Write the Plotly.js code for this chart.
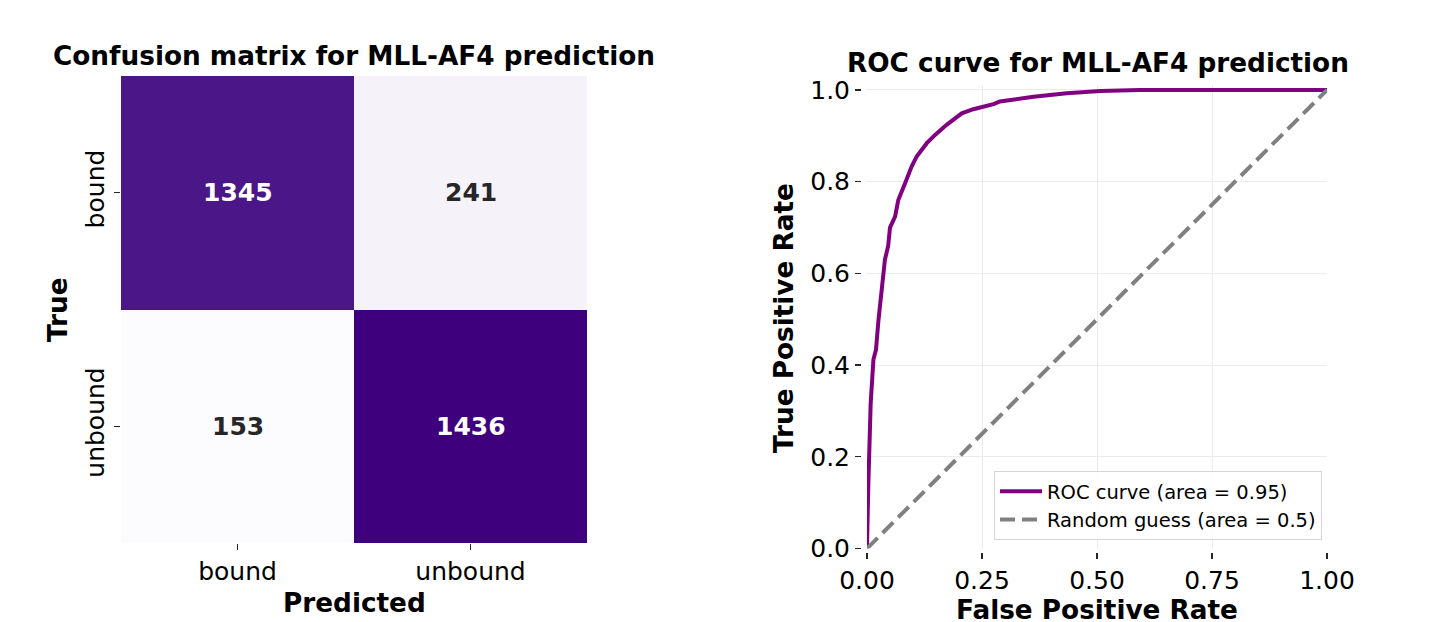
<!DOCTYPE html>
<html>
<head>
<meta charset="utf-8">
<script src="https://cdn.plot.ly/plotly-3.0.1.min.js"></script>
<style>
  html, body { margin: 0; padding: 0; background: #ffffff; }
  #chart { width: 1436px; height: 622px; }
</style>
</head>
<body>
<div id="chart"></div>
<script>
// ---------- data ----------
const cmCategories = ['bound', 'unbound'];
const cmValues = [
  [1345, 241],
  [153, 1436]
];

const rocFpr = [0.000, 0.000, 0.002, 0.003, 0.0065, 0.008, 0.014, 0.0196, 0.025, 0.032, 0.039, 0.046, 0.050, 0.061, 0.068, 0.083, 0.097, 0.108, 0.130, 0.148, 0.173, 0.206, 0.231, 0.275, 0.289, 0.362, 0.434, 0.507, 0.593, 0.700, 0.800, 0.900, 1.000];
const rocTpr = [0.000, 0.030, 0.100, 0.143, 0.245, 0.317, 0.412, 0.434, 0.499, 0.560, 0.630, 0.660, 0.700, 0.724, 0.760, 0.797, 0.833, 0.855, 0.884, 0.902, 0.924, 0.949, 0.958, 0.969, 0.975, 0.985, 0.993, 0.998, 1.000, 1.000, 1.000, 1.000, 1.000];

const chanceFpr = [0, 1];
const chanceTpr = [0, 1];

const rocLabel = 'ROC curve (area = 0.95)';
const chanceLabel = 'Random guess (area = 0.5)';

const rocXTicks = [0, 0.25, 0.5, 0.75, 1.0];
const rocYTicks = [0, 0.2, 0.4, 0.6, 0.8, 1.0];

// ---------- styling ----------
const FONT = 'DejaVu Sans, Verdana, sans-serif';
const purples = [
  [0.000, '#fcfbfd'], [0.125, '#efedf5'], [0.250, '#dadaeb'],
  [0.375, '#bcbddc'], [0.500, '#9e9ac8'], [0.625, '#807dba'],
  [0.750, '#6a51a3'], [0.875, '#54278f'], [1.000, '#3f007d']
];
const W = 1436, H = 622;
const px = v => v / W;
const py = v => 1 - v / H;

const flat = cmValues.flat();
const zmin = Math.min(...flat), zmax = Math.max(...flat);

const traces = [
  {
    type: 'heatmap',
    x: cmCategories, y: cmCategories, z: cmValues,
    colorscale: purples, zmin: zmin, zmax: zmax,
    showscale: false, hoverinfo: 'skip',
    xaxis: 'x', yaxis: 'y'
  },
  {
    type: 'scatter', mode: 'lines',
    x: rocFpr, y: rocTpr, name: rocLabel,
    line: { color: '#800080', width: 4 },
    cliponaxis: false,
    xaxis: 'x2', yaxis: 'y2'
  },
  {
    type: 'scatter', mode: 'lines',
    x: chanceFpr, y: chanceTpr, name: chanceLabel,
    line: { color: '#808080', width: 4, dash: '15px,7px' },
    cliponaxis: false,
    xaxis: 'x2', yaxis: 'y2'
  }
];

// annotations: cell values
const annotations = [];
const mid = (zmin + zmax) / 2;
cmValues.forEach((row, i) => {
  row.forEach((v, j) => {
    annotations.push({
      x: cmCategories[j], y: cmCategories[i], xref: 'x', yref: 'y',
      text: String(v), showarrow: false,
      font: { family: FONT, size: 25, color: v > mid ? '#ffffff' : '#262626', weight: 'bold' }
    });
  });
});

function label(text, x, y, angle) {
  return {
    text: text, xref: 'paper', yref: 'paper', x: px(x), y: py(y),
    xanchor: 'center', yanchor: 'middle', showarrow: false, textangle: angle || 0,
    borderpad: 0,
    font: { family: FONT, size: 26.3, color: '#000000', weight: 'bold' }
  };
}
annotations.push(label('Confusion matrix for MLL-AF4 prediction', 354, 56));
annotations.push(label('ROC curve for MLL-AF4 prediction', 1098, 63));
annotations.push(label('Predicted', 354, 603));
annotations.push(label('True', 58, 310, -90));
annotations.push(label('True Positive Rate', 784, 318, -90));
annotations.push(label('False Positive Rate', 1097, 610));

const tickFont = { family: FONT, size: 25, color: '#000000' };

const layout = {
  width: W, height: H,
  margin: { l: 0, r: 0, t: 0, b: 0 },
  paper_bgcolor: '#ffffff', plot_bgcolor: '#ffffff',
  showlegend: true,
  font: { family: FONT, color: '#000000' },
  xaxis: {
    domain: [px(121), px(587)], anchor: 'y',
    type: 'category', showgrid: false, zeroline: false, showline: false,
    ticks: 'outside', ticklen: 6, tickwidth: 1.2, tickcolor: '#262626',
    tickfont: tickFont, fixedrange: true
  },
  yaxis: {
    domain: [py(543), py(76)], anchor: 'x',
    type: 'category', autorange: 'reversed', showgrid: false, zeroline: false, showline: false,
    ticks: 'outside', ticklen: 6, tickwidth: 1.2, tickcolor: '#262626',
    tickfont: tickFont, tickangle: -90, fixedrange: true
  },
  xaxis2: {
    domain: [px(867), px(1327)], anchor: 'free', position: py(552),
    range: [0, 1], tickvals: rocXTicks, tickformat: '.2f',
    showgrid: true, gridcolor: '#ebebeb', gridwidth: 1,
    zeroline: false, showline: false,
    ticks: 'outside', ticklen: 6, tickwidth: 1.2, tickcolor: '#262626',
    tickfont: tickFont
  },
  yaxis2: {
    domain: [py(548.5), py(85.4)], anchor: 'free', position: px(861),
    range: [0, 1.01], tickvals: rocYTicks, tickformat: '.1f',
    showgrid: true, gridcolor: '#ebebeb', gridwidth: 1,
    zeroline: false, showline: false,
    ticks: 'outside', ticklen: 6, tickwidth: 1.2, tickcolor: '#262626',
    tickfont: tickFont
  },
  legend: {
    x: px(1322), y: py(540), xanchor: 'right', yanchor: 'bottom',
    bgcolor: 'rgba(255,255,255,0.85)', bordercolor: '#d5d5d5', borderwidth: 1,
    font: { family: FONT, size: 19.5, color: '#000000' },
    itemwidth: 42,
    tracegroupgap: 0
  },
  annotations: annotations
};

Plotly.newPlot('chart', traces, layout, { staticPlot: true, displayModeBar: false });
</script>
</body>
</html>
